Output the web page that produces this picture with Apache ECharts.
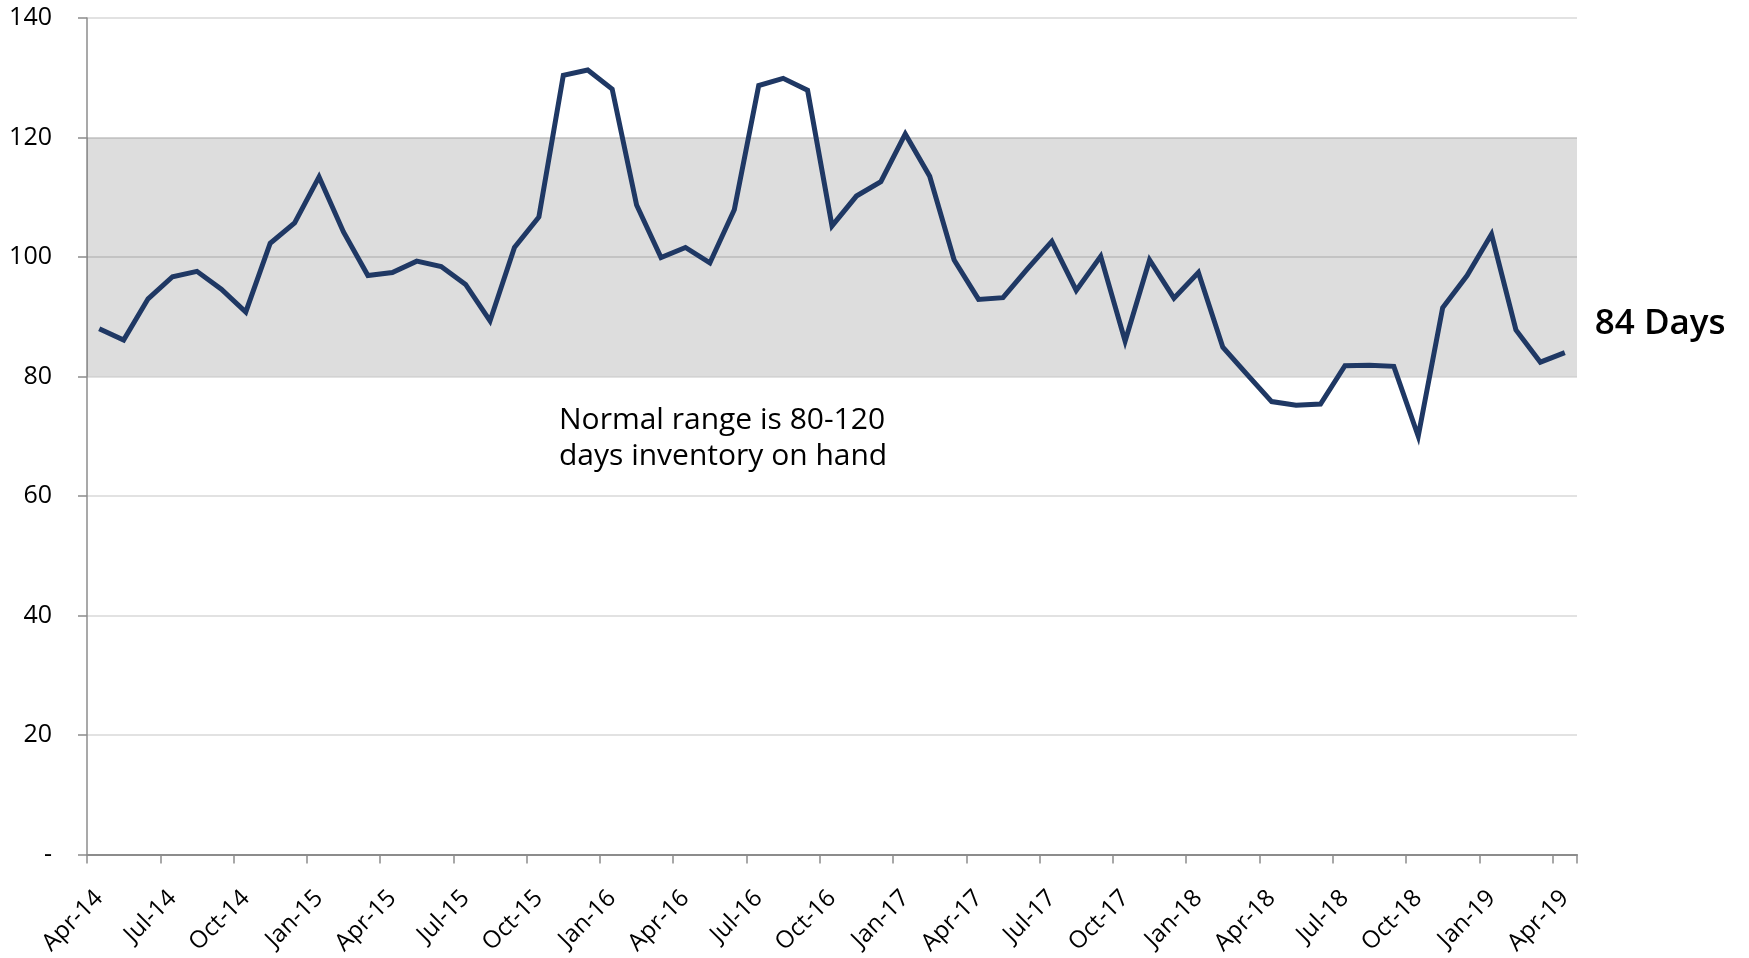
<!DOCTYPE html>
<html>
<head>
<meta charset="utf-8">
<script src="https://cdn.jsdelivr.net/npm/echarts@6/dist/echarts.min.js"></script>
<style>
  html, body { margin: 0; padding: 0; background: #ffffff; }
  #chart { width: 1749px; height: 958px; }
</style>
</head>
<body>
<div id="chart"></div>
<script>
// Monthly categories, Apr-14 through Apr-19
const months = [
  'Apr-14','May-14','Jun-14','Jul-14','Aug-14','Sep-14','Oct-14','Nov-14','Dec-14',
  'Jan-15','Feb-15','Mar-15','Apr-15','May-15','Jun-15','Jul-15','Aug-15','Sep-15','Oct-15','Nov-15','Dec-15',
  'Jan-16','Feb-16','Mar-16','Apr-16','May-16','Jun-16','Jul-16','Aug-16','Sep-16','Oct-16','Nov-16','Dec-16',
  'Jan-17','Feb-17','Mar-17','Apr-17','May-17','Jun-17','Jul-17','Aug-17','Sep-17','Oct-17','Nov-17','Dec-17',
  'Jan-18','Feb-18','Mar-18','Apr-18','May-18','Jun-18','Jul-18','Aug-18','Sep-18','Oct-18','Nov-18','Dec-18',
  'Jan-19','Feb-19','Mar-19','Apr-19'
];

// Days of inventory on hand
const daysOnHand = [
  88.0, 86.1, 93.0, 96.7, 97.6, 94.6, 90.8, 102.3, 105.7,
  113.4, 104.2, 96.9, 97.4, 99.3, 98.4, 95.4, 89.3, 101.6, 106.7, 130.4, 131.3,
  128.1, 108.7, 99.9, 101.6, 99.0, 107.9, 128.7, 129.9, 127.9, 105.2, 110.2, 112.6,
  120.6, 113.5, 99.5, 92.9, 93.2, 98.0, 102.6, 94.4, 100.1, 85.9, 99.5, 93.1,
  97.4, 84.9, 80.3, 75.8, 75.2, 75.4, 81.8, 81.9, 81.7, 70.0, 91.5, 96.9,
  103.8, 87.8, 82.4, 84
];

// Normal inventory band (days)
const normalRange = [80, 120];

// Value axis ticks
const yTicks = { min: 0, max: 140, interval: 20 };

const FONT = '"Open Sans", "Noto Sans", sans-serif';

const chart = echarts.init(document.getElementById('chart'), null, { renderer: 'canvas' });

chart.setOption({
  animation: false,
  backgroundColor: '#ffffff',
  grid: { left: 87, right: 172, top: 18, bottom: 101, containLabel: false },
  xAxis: {
    type: 'category',
    data: months,
    boundaryGap: true,
    axisLine: { show: true, lineStyle: { color: '#8c8c8c', width: 2 } },
    axisTick: {
      show: true,
      length: 9,
      interval: (i) => i % 3 === 0,
      lineStyle: { color: '#8c8c8c', width: 1.5 }
    },
    axisLabel: {
      interval: (i) => i % 3 === 0,
      rotate: 45,
      margin: 40,
      fontFamily: FONT,
      fontSize: 24,
      color: '#000000'
    },
    splitLine: { show: false }
  },
  yAxis: {
    type: 'value',
    min: yTicks.min,
    max: yTicks.max,
    interval: yTicks.interval,
    axisLine: { show: true, lineStyle: { color: '#8c8c8c', width: 1.5 } },
    axisTick: { show: true, length: 9, lineStyle: { color: '#8c8c8c', width: 1.5 } },
    axisLabel: {
      margin: 35,
      fontFamily: FONT,
      fontSize: 25,
      color: '#000000',
      formatter: (v) => v === 0 ? '-' : String(v)
    },
    splitLine: { show: true, lineStyle: { color: '#d9d9d9', width: 1.5 } }
  },
  series: [{
    type: 'line',
    data: daysOnHand,
    symbol: 'none',
    lineStyle: { color: '#1f3864', width: 5, join: 'miter' },
    itemStyle: { color: '#1f3864' },
    z: 3,
    endLabel: {
      show: true,
      distance: 30,
      offset: [0, -29],
      formatter: (p) => Math.round(p.value) + ' Days',
      fontFamily: FONT,
      fontSize: 35,
      fontWeight: 600,
      color: '#000000'
    },
    markArea: {
      silent: true,
      itemStyle: { color: 'rgba(0,0,0,0.135)' },
      data: [[{ yAxis: normalRange[0] }, { yAxis: normalRange[1] }]]
    }
  }],
  graphic: [{
    type: 'text',
    left: 559,
    top: 402,
    style: {
      text: 'Normal range is 80-120\ndays inventory on hand',
      font: '30px ' + FONT,
      lineHeight: 36,
      fill: '#000000'
    }
  }]
});
</script>
</body>
</html>
